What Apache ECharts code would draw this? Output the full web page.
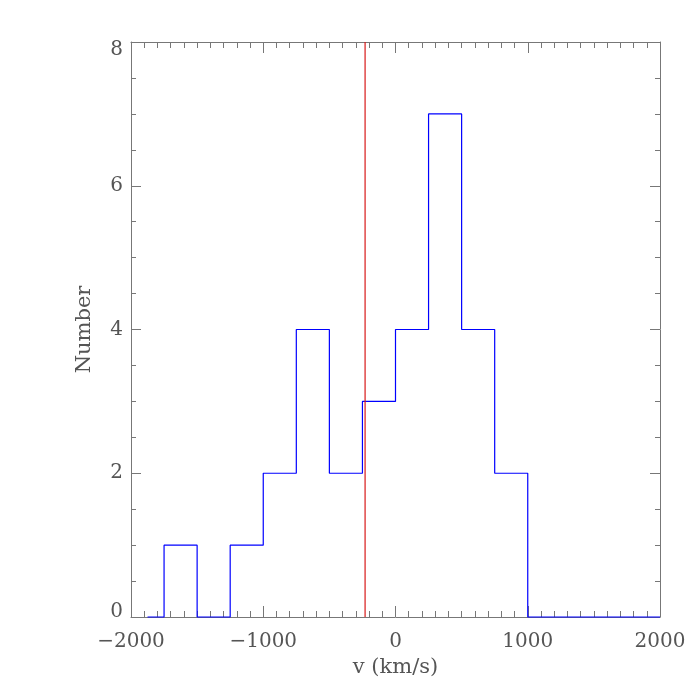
<!DOCTYPE html>
<html>
<head>
<meta charset="utf-8">
<script src="https://cdn.jsdelivr.net/npm/echarts@6/dist/echarts.min.js"></script>
<style>
  html, body { margin: 0; padding: 0; background: #fff; }
  #chart { width: 700px; height: 700px; }
</style>
</head>
<body>
<div id="chart"></div>
<script>
// histogram bin edges (km/s) and counts per bin
const binEdges = [-1875, -1750, -1500, -1250, -1000, -750, -500, -250, 0, 250, 500, 750, 1000, 2000];
const binCounts = [0, 1, 0, 1, 2, 4, 2, 3, 4, 7, 4, 2, 0];
const markerV = -230;   // red vertical line
const xRange = [-2000, 2000];
const yRange = [0, 8];

const histData = binCounts.map((c, i) => [binEdges[i], c]);
histData.push([binEdges[binEdges.length - 1], 0]);

const axisCol = '#777';
const textCol = '#555';
const font = 'DejaVu Serif';

function xAx(pos, labels) {
  return {
    type: 'value', position: pos,
    min: xRange[0], max: xRange[1], interval: 1000,
    axisLine: { show: true, onZero: false, lineStyle: { color: axisCol, width: 1 } },
    axisTick: { show: true, inside: true, length: 11, lineStyle: { color: axisCol } },
    minorTick: { show: true, splitNumber: 10, length: 6, lineStyle: { color: axisCol } },
    splitLine: { show: false },
    axisLabel: {
      show: labels, margin: 15, color: textCol, fontFamily: font, fontSize: 20,
      formatter: v => String(v).replace('-', '\u2212')
    },
    name: labels ? 'v (km/s)' : '', nameLocation: 'middle', nameGap: 33,
    nameTextStyle: { color: textCol, fontFamily: font, fontSize: 21 }
  };
}

function yAx(pos, labels) {
  return {
    type: 'value', position: pos,
    min: yRange[0], max: yRange[1], interval: 2,
    axisLine: { show: true, onZero: false, lineStyle: { color: axisCol, width: 1 } },
    axisTick: { show: true, inside: true, length: 10, lineStyle: { color: axisCol } },
    minorTick: { show: true, splitNumber: 4, length: 5, lineStyle: { color: axisCol } },
    splitLine: { show: false },
    axisLabel: {
      show: labels, margin: 8, color: textCol, fontFamily: font, fontSize: 20,
      formatter: v => v === yRange[0] ? '{lo|' + v + '}' : v === yRange[1] ? '{hi|' + v + '}' : String(v),
      rich: {
        lo: { color: textCol, fontFamily: font, fontSize: 20, padding: [0, 0, 10, 0] },
        hi: { color: textCol, fontFamily: font, fontSize: 20, padding: [16, 0, 0, 0] }
      }
    },
    name: labels ? 'Number' : '', nameLocation: 'middle', nameGap: 36,
    nameTextStyle: { color: textCol, fontFamily: font, fontSize: 21 }
  };
}

const chart = echarts.init(document.getElementById('chart'));
chart.setOption({
  animation: false,
  backgroundColor: '#fff',
  grid: { left: 131, right: 40, top: 42, bottom: 83 },
  xAxis: [xAx('bottom', true), xAx('top', false)],
  yAxis: [yAx('left', true), yAx('right', false)],
  series: [
    {
      type: 'line', step: 'end', data: histData,
      showSymbol: false, clip: false,
      lineStyle: { color: '#0000ff', width: 1.2 }
    },
    {
      type: 'line', data: [[markerV, yRange[0]], [markerV, yRange[1]]],
      showSymbol: false,
      lineStyle: { color: '#d81818', width: 1.2 }
    }
  ]
});
</script>
</body>
</html>
